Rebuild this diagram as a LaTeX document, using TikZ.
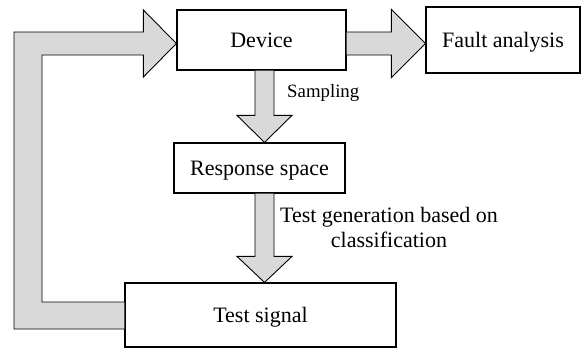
\documentclass[tikz,border=0pt]{standalone}
\usepackage{fontspec}
\setmainfont{Liberation Serif}
\usetikzlibrary{calc}
\definecolor{arrowgray}{RGB}{217,217,217}
\begin{document}
\begin{tikzpicture}[x=1pt,y=-1pt,
  box/.style={draw, line width=1.2pt, inner sep=0pt, font=\fontsize{22}{25}\selectfont, text height=14.5pt, text depth=0pt},
  blk/.style={draw, line width=0.9pt, fill=arrowgray, line join=miter},
  lbl/.style={inner sep=0pt}]
\useasboundingbox (0,0) rectangle (581,349);
% boxes
\node[box, minimum width=169pt, minimum height=60pt] (dev) at (261.5,40) {Device};
\node[box, minimum width=154pt, minimum height=66pt] (fault) at (503,40) {Fault analysis};
\node[box, minimum width=171pt, minimum height=50pt] (resp) at (259.5,168) {Response space};
\node[box, minimum width=271pt, minimum height=64pt] (sig) at (260.5,315) {Test signal};
% device -> fault analysis
\coordinate (r0) at ($(dev.east)+(0,3.5)$);
\coordinate (r1) at ($(fault.west)+(0,3.5)$);
\draw[blk] let \p1=(r0), \p2=(r1) in
  (\x1,\y1+11.5pt) -- (\x2-34pt,\y1+11.5pt) -- (\x2-34pt,\y1+34pt) -- (\p2)
  -- (\x2-34pt,\y1-34pt) -- (\x2-34pt,\y1-11.5pt) -- (\x1,\y1-11.5pt);
% device -> response space
\coordinate (a0) at ($(dev.south)+(3,0)$);
\coordinate (a1) at ($(resp.north)+(5,0)$);
\draw[blk] let \p1=(a0), \p2=(a1) in
  (\x2-9.5pt,\y1) -- (\x2-9.5pt,\y2+27pt) -- (\x2-27.5pt,\y2+27pt) -- (\p2)
  -- (\x2+27.5pt,\y2+27pt) -- (\x2+9.5pt,\y2+27pt) -- (\x2+9.5pt,\y1);
% response space -> test signal
\coordinate (b0) at ($(resp.south)+(5,0)$);
\coordinate (b1) at ($(sig.north)+(4,0)$);
\draw[blk] let \p1=(b0), \p2=(b1) in
  (\x2-9.5pt,\y1) -- (\x2-9.5pt,\y2+26pt) -- (\x2-27.5pt,\y2+26pt) -- (\p2)
  -- (\x2+27.5pt,\y2+26pt) -- (\x2+9.5pt,\y2+26pt) -- (\x2+9.5pt,\y1);
% test signal -> device (feedback loop)
\coordinate (ls) at ($(sig.west)+(0,0.5)$);
\coordinate (lt) at ($(dev.west)+(0,3.5)$);
\draw[blk] let \p1=(ls), \p2=(lt) in
  (\x1,\y1-13.5pt) -- (14pt,\y1-13.5pt) -- (14pt,\y2+11.5pt) -- (\x2-33pt,\y2+11.5pt)
  -- (\x2-33pt,\y2+33.5pt) -- (\p2) -- (\x2-33pt,\y2-33.5pt) -- (\x2-33pt,\y2-11.5pt)
  -- (42pt,\y2-11.5pt) -- (42pt,\y1+13.5pt) -- (\x1,\y1+13.5pt);
% labels
\node[lbl, anchor=base west, font=\fontsize{18.8}{22}\selectfont] (samp) at (287,97) {Sampling};
\node[lbl, anchor=north, align=center, font=\fontsize{22}{25}\selectfont] (tg) at (389,207.3) {Test generation based on\\classification};
\end{tikzpicture}
\end{document}
